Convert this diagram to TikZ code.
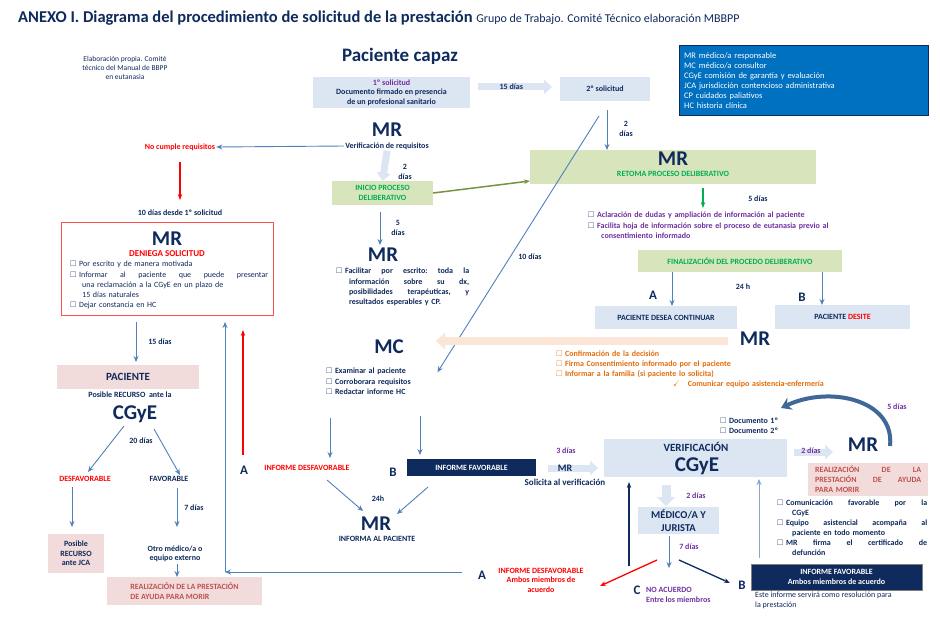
\documentclass[tikz,border=0pt]{standalone}
\usepackage{amssymb}
\usepackage{fontspec}
\setmainfont{Carlito}
\usetikzlibrary{arrows.meta}
\definecolor{navy}{HTML}{0F2A5C}
\definecolor{lblue}{HTML}{DCE6F2}
\definecolor{lgreen}{HTML}{D7E4BC}
\definecolor{tgreen}{HTML}{00B050}
\definecolor{pinkb}{HTML}{F2DCDB}
\definecolor{dred}{HTML}{C0504D}
\definecolor{arr}{HTML}{4F81BD}
\definecolor{purp}{HTML}{7030A0}
\definecolor{orng}{HTML}{E46C0A}
\definecolor{lorng}{HTML}{FBE5D6}
\definecolor{olive}{HTML}{77933C}
\definecolor{legb}{HTML}{0070C0}
\newcommand\bq{$\square$\ }
\begin{document}
\begin{tikzpicture}[x=1pt,y=-1pt,
 t/.style={font=\fontsize{8}{9.5}\selectfont\bfseries,text=navy,inner sep=1pt,align=center},
 big/.style={font=\fontsize{21}{22}\selectfont\bfseries,text=navy,inner sep=0pt},
 box/.style={draw=none,fill=lblue,inner sep=0pt,align=center,font=\fontsize{8}{9.5}\selectfont\bfseries,text=navy},
 ar/.style={draw=arr,line width=0.9pt,-{Stealth[length=6pt,width=5pt]}},
 fat/.style={draw=lblue,line width=7pt,-{Triangle[length=8pt,width=14pt]}},
 bl/.style={font=\fontsize{8}{10}\selectfont\bfseries,text=navy,inner sep=0pt,align=justify,anchor=north west}]
\fill[white] (0,0) rectangle (940,618);
\node[anchor=west,inner sep=0pt] (title) at (18,18) {\fontsize{16.5}{18}\selectfont\bfseries\color{navy}ANEXO I. Diagrama del procedimiento de solicitud de la prestación \fontsize{12}{14}\mdseries Grupo de Trabajo. Comité Técnico elaboración MBBPP};
\node[t,font=\fontsize{7.5}{9}\selectfont] (elab) at (125,68) {Elaboración propia. Comité\\técnico del Manual de BBPP\\en eutanasia};
\node[big,font=\fontsize{19}{21}\selectfont\bfseries] (pc) at (400,56) {Paciente capaz};
\node[box,minimum width=157,minimum height=30] (s1) at (391.5,92.5) {\color{purp}1º solicitud\\Documento firmado en presencia\\de un profesional sanitario};
\draw[fat] (478,87) -- (552,87) node[pos=0.45,t] (d15) {15 días};
\node[box,minimum width=90,minimum height=24] (s2) at (605,89) {2º solicitud};
\node[fill=legb,draw=navy,minimum width=249,minimum height=70,anchor=north west,text=white,align=left,font=\fontsize{8.5}{10}\selectfont,inner sep=5pt,text width=239] (leg) at (679,45) {MR médico/a responsable\\MC médico/a consultor\\CGyE comisión de garantía y evaluación\\JCA jurisdicción contencioso administrativa\\CP cuidados paliativos\\HC historia clínica};
\node[big] (mr1) at (387,130) {MR};
\node[t] (ver) at (387,146) {Verificación de requisitos};
\node[t,text=red] (nc) at (180,147) {No cumple requisitos};
\draw[ar] (ver.west) -- (nc.east);
\draw[red,line width=1.6pt,-{Stealth[length=6pt]}] (180,162) -- (180,200);
\node[t] (d10) at (180,213) {10 días desde 1º solicitud};
\node[draw=red!70,line width=1pt,minimum width=212,minimum height=93,anchor=north west] (den) at (61,222) {};
\node[big] (mr2) at (167,239) {MR};
\node[t,text=red,font=\fontsize{9}{10}\selectfont\bfseries] (dens) at (167,254) {DENIEGA SOLICITUD};
\node[bl,font=\fontsize{8}{10.3}\selectfont,text width=198,align=left] (denb) at (70,261) {\bq Por escrito y de manera motivada\\\bq Informar\hfill al\hfill paciente\hfill que\hfill puede\hfill presentar\\\hspace*{12pt}una reclamación a la CGyE en un plazo de\\\hspace*{12pt}15 días naturales\\\bq Dejar constancia en HC};
\node[box,fill=lgreen,text=tgreen,minimum width=101,minimum height=24] (ini) at (382.5,193) {INICIO PROCESO\\DELIBERATIVO};
\draw[fat] (ver.south) -- (ini.north);
\node[t] (d2a) at (405,172) {2\\días};
\node[box,fill=lgreen,minimum width=286,minimum height=34,anchor=north west] (ret) at (530,150) {};
\node[big] (mr3) at (673,159) {MR};
\node[t,text=tgreen] (rett) at (673,174) {RETOMA PROCESO DELIBERATIVO};
\draw[olive,line width=1.5pt,-{Stealth[length=6pt]}] (ini.east) -- (ret.west |- 0,181);
\draw[ar] (380,212) -- (380,245);
\node[t] (d5a) at (398,228) {5\\días};
\node[big] (mr4) at (383,255) {MR};
\node[bl,text width=133,font=\fontsize{8}{10.3}\selectfont\bfseries,align=left] (fac) at (336,268) {\bq Facilitar\hfill por\hfill escrito:\hfill toda\hfill la\\\hspace*{13pt}información\hfill sobre\hfill su\hfill dx,\\\hspace*{13pt}posibilidades\hfill terapéuticas,\hfill y\\\hspace*{13pt}resultados esperables y CP.};
\draw[ar] (607,110) -- (ret.north -| 607,0);
\node[t] (d2b) at (626,129) {2\\días};
\coordinate (lt) at (599,116);
\node[inner sep=0pt] (mcb) at (437,373) {};
\draw[ar] (lt) -- (mcb);
\node[t] (d10b) at (530,257) {10 días};
\draw[tgreen,line width=1.5pt,-{Stealth[length=6pt]}] (703,188) -- (703,208);
\node[t] (d5b) at (758,199) {5 días};
\node[bl,text=purp,text width=330,align=left,font=\fontsize{8}{10.3}\selectfont\bfseries] (acl) at (588,212) {{\color{navy}\bq}Aclaración de dudas y ampliación de información al paciente\\{\color{navy}\bq}Facilita hoja de información sobre el proceso de eutanasia previo al\\\hspace*{13pt}consentimiento informado};
\node[box,fill=lgreen,text=tgreen,minimum width=204,minimum height=22] (fin) at (740,261) {FINALIZACIÓN DEL PROCEDO DELIBERATIVO};
\node[box,minimum width=142,minimum height=23] (cont) at (666,317.5) {PACIENTE DESEA CONTINUAR};
\node[box,minimum width=135,minimum height=24] (des) at (842.5,317) {PACIENTE {\color{red}DESITE}};
\draw[ar] (672,272) -- (672,306);
\draw[ar] (822,272) -- (822,305);
\node[big,font=\fontsize{13}{14}\selectfont\bfseries] (A1) at (653,295) {A};
\node[big,font=\fontsize{13}{14}\selectfont\bfseries] (B1) at (802,297) {B};
\node[t] (h24) at (743,287) {24 h};
\node[big] (mr5) at (755,339) {MR};
\draw[lorng,line width=8pt,-{Triangle[length=9pt,width=16pt]}] (728,341) -- (436,341);
\node[bl,text=orng,align=left,text width=300,font=\fontsize{8}{10}\selectfont\bfseries] (conf) at (556,351) {\bq Confirmación de la decisión\\\bq Firma Consentimiento informado por el paciente\\\bq Informar a la familia (si paciente lo solicita)\\\hspace*{117pt}\checkmark\hspace{8pt}Comunicar equipo asistencia-enfermería};
\node[big] (mc) at (389,347) {MC};
\node[bl,font=\fontsize{8}{10.3}\selectfont\bfseries,align=left,text width=120] (mcl) at (326,368) {\bq Examinar al paciente\\\bq Corroborara requisitos\\\bq Redactar informe HC};
\draw[ar] (330,418) -- (330,458);
\draw[ar] (420,416) -- (420,455);
\node[big,font=\fontsize{13}{14}\selectfont\bfseries] (A2) at (244,470) {A};
\node[t,text=red] (idf) at (307,468) {INFORME DESFAVORABLE};
\draw[red,line width=1.6pt,-{Stealth[length=6pt]}] (243,455) -- (243,330);
\node[big,font=\fontsize{13}{14}\selectfont\bfseries] (B2) at (393,472) {B};
\node[box,fill=navy,text=white,minimum width=129,minimum height=17] (ifav) at (471.5,467.5) {INFORME FAVORABLE};
\draw[ar] (327,480) -- (363,511);
\draw[ar] (428,487) -- (397,514);
\node[t] (h24b) at (378,499) {24h};
\node[big] (mr6) at (376,524) {MR};
\node[t] (inf) at (377,539) {INFORMA AL PACIENTE};
\coordinate (lp) at (462,572);
\coordinate (lc) at (225,572);
\coordinate (lu) at (225,322);
\draw[ar] (lp) -- (lc);
\draw[ar] (lc) -- (lu);
\draw[ar] (136,322) -- (136,362);
\node[t] (d15b) at (160,342) {15 días};
\node[box,fill=pinkb,font=\fontsize{11}{12}\selectfont\bfseries,minimum width=142,minimum height=24] (pac) at (128,377) {PACIENTE};
\node[t] (pos) at (130,395) {Posible RECURSO\ \ ante la};
\node[big] (cg1) at (135,414) {CGyE};
\draw[ar] (124,426) -- (88,472);
\draw[ar] (154,429) -- (180,475);
\node[t] (d20) at (141,441) {20 días};
\node[t,text=red] (dsf) at (85,479) {DESFAVORABLE};
\node[t] (fv) at (169,479) {FAVORABLE};
\draw[ar] (72,487) -- (72,527);
\draw[ar] (177,488) -- (177,527);
\node[t] (d7) at (194,508) {7 días};
\node[box,fill=pinkb,minimum width=56,minimum height=39] (jca) at (76,553.5) {Posible\\RECURSO\\ante JCA};
\node[t] (otro) at (175,554) {Otro médico/a o\\equipo externo};
\draw[ar] (177,564) -- (177,577);
\node[box,fill=pinkb,text=dred,minimum width=155,minimum height=28,align=left] (rea1) at (184.5,591) {REALIZACIÓN DE LA PRESTACIÓN\\DE AYUDA PARA MORIR};
\node[box,minimum width=183,minimum height=38] (vc) at (695.5,458) {};
\node[t,font=\fontsize{11}{12}\selectfont\bfseries] (vt) at (696,447) {VERIFICACIÓN};
\node[big] (cg2) at (697,466) {CGyE};
\draw[fat] (548,468) -- (598,468);
\node[t,font=\fontsize{10}{12}\selectfont\bfseries] (mr7) at (565,468) {MR};
\node[t,text=purp] (d3) at (566,451) {3 días};
\node[t,font=\fontsize{9}{10}\selectfont\bfseries] (sol) at (565,482) {Solicita al verificación};
\node[bl,align=left,text width=80] (doc) at (720,418) {\bq Documento 1º\\\bq Documento 2º};
\draw[fat] (794,452) -- (833,452);
\node[t,text=purp] (d2c) at (811,451) {2 días};
\node[big] (mr8) at (863,445) {MR};
\draw[draw=arr!80!black,line width=4pt,-{Stealth[length=10pt,width=13pt]}] (890,446) .. controls (895,400) and (830,385) .. (781,408);
\node[t,text=purp] (d5c) at (897,407) {5 días};
\node[box,fill=pinkb,text=dred,minimum width=120,minimum height=33,anchor=north west] (rea2) at (808,463) {};
\node[bl,text=dred,text width=106,font=\fontsize{8}{10}\selectfont\bfseries,align=left] (rea2t) at (815,466) {REALIZACIÓN\hfill DE\hfill LA\\PRESTACIÓN\hfill DE\hfill AYUDA\\PARA MORIR};
\node[bl,text width=150,font=\fontsize{8}{10}\selectfont\bfseries,align=left] (com) at (777,500) {\bq Comunicación\hfill favorable\hfill por\hfill la\\\hspace*{15pt}CGyE\\\bq Equipo\hfill asistencial\hfill acompaña\hfill al\\\hspace*{15pt}paciente en todo momento\\\bq MR\hfill firma\hfill el\hfill certificado\hfill de\\\hspace*{15pt}defunción};
\draw[lblue,line width=9pt,-{Triangle[length=9pt,width=18pt]}] (666,485) -- (666,506);
\node[t,text=purp] (d2d) at (696,496) {2 días};
\node[box,font=\fontsize{10.5}{12.5}\selectfont\bfseries,minimum width=81,minimum height=27] (mj) at (678.5,520.5) {MÉDICO/A Y\\JURISTA};
\draw[ar] (669,536) -- (669,568);
\node[t,text=purp] (d7b) at (689,547) {7 días};
\draw[red,line width=1.3pt,-{Stealth[length=6pt]}] (657,560) -- (600,586);
\node[big,font=\fontsize{13}{14}\selectfont\bfseries] (A3) at (482,575) {A};
\node[t,text=red] (idf2) at (541,580) {INFORME DESFAVORABLE\\Ambos miembros de\\acuerdo};
\draw[navy,line width=1.3pt,-{Stealth[length=6pt]}] (629,566) -- (629,482);
\draw[ar,draw=arr!70] (759,558) -- (759,479);
\draw[navy,line width=1.3pt,-{Stealth[length=6pt]}] (679,560) -- (730,583);
\node[big,font=\fontsize{13}{14}\selectfont\bfseries] (B3) at (742,585) {B};
\node[big,font=\fontsize{13}{14}\selectfont\bfseries] (C3) at (637,590) {C};
\node[t,text=purp,align=left,anchor=west] (na) at (645,595) {NO ACUERDO\\Entre los miembros};
\node[box,fill=navy,text=white,draw=gray,minimum width=171,minimum height=26] (ifav2) at (836.5,577) {INFORME FAVORABLE\\Ambos miembros de acuerdo};
\node[t,align=left,anchor=north west,font=\fontsize{8}{9.5}\selectfont] (este) at (754,591) {Este informe servirá como resolución para\\la prestación};
\end{tikzpicture}
\end{document}
